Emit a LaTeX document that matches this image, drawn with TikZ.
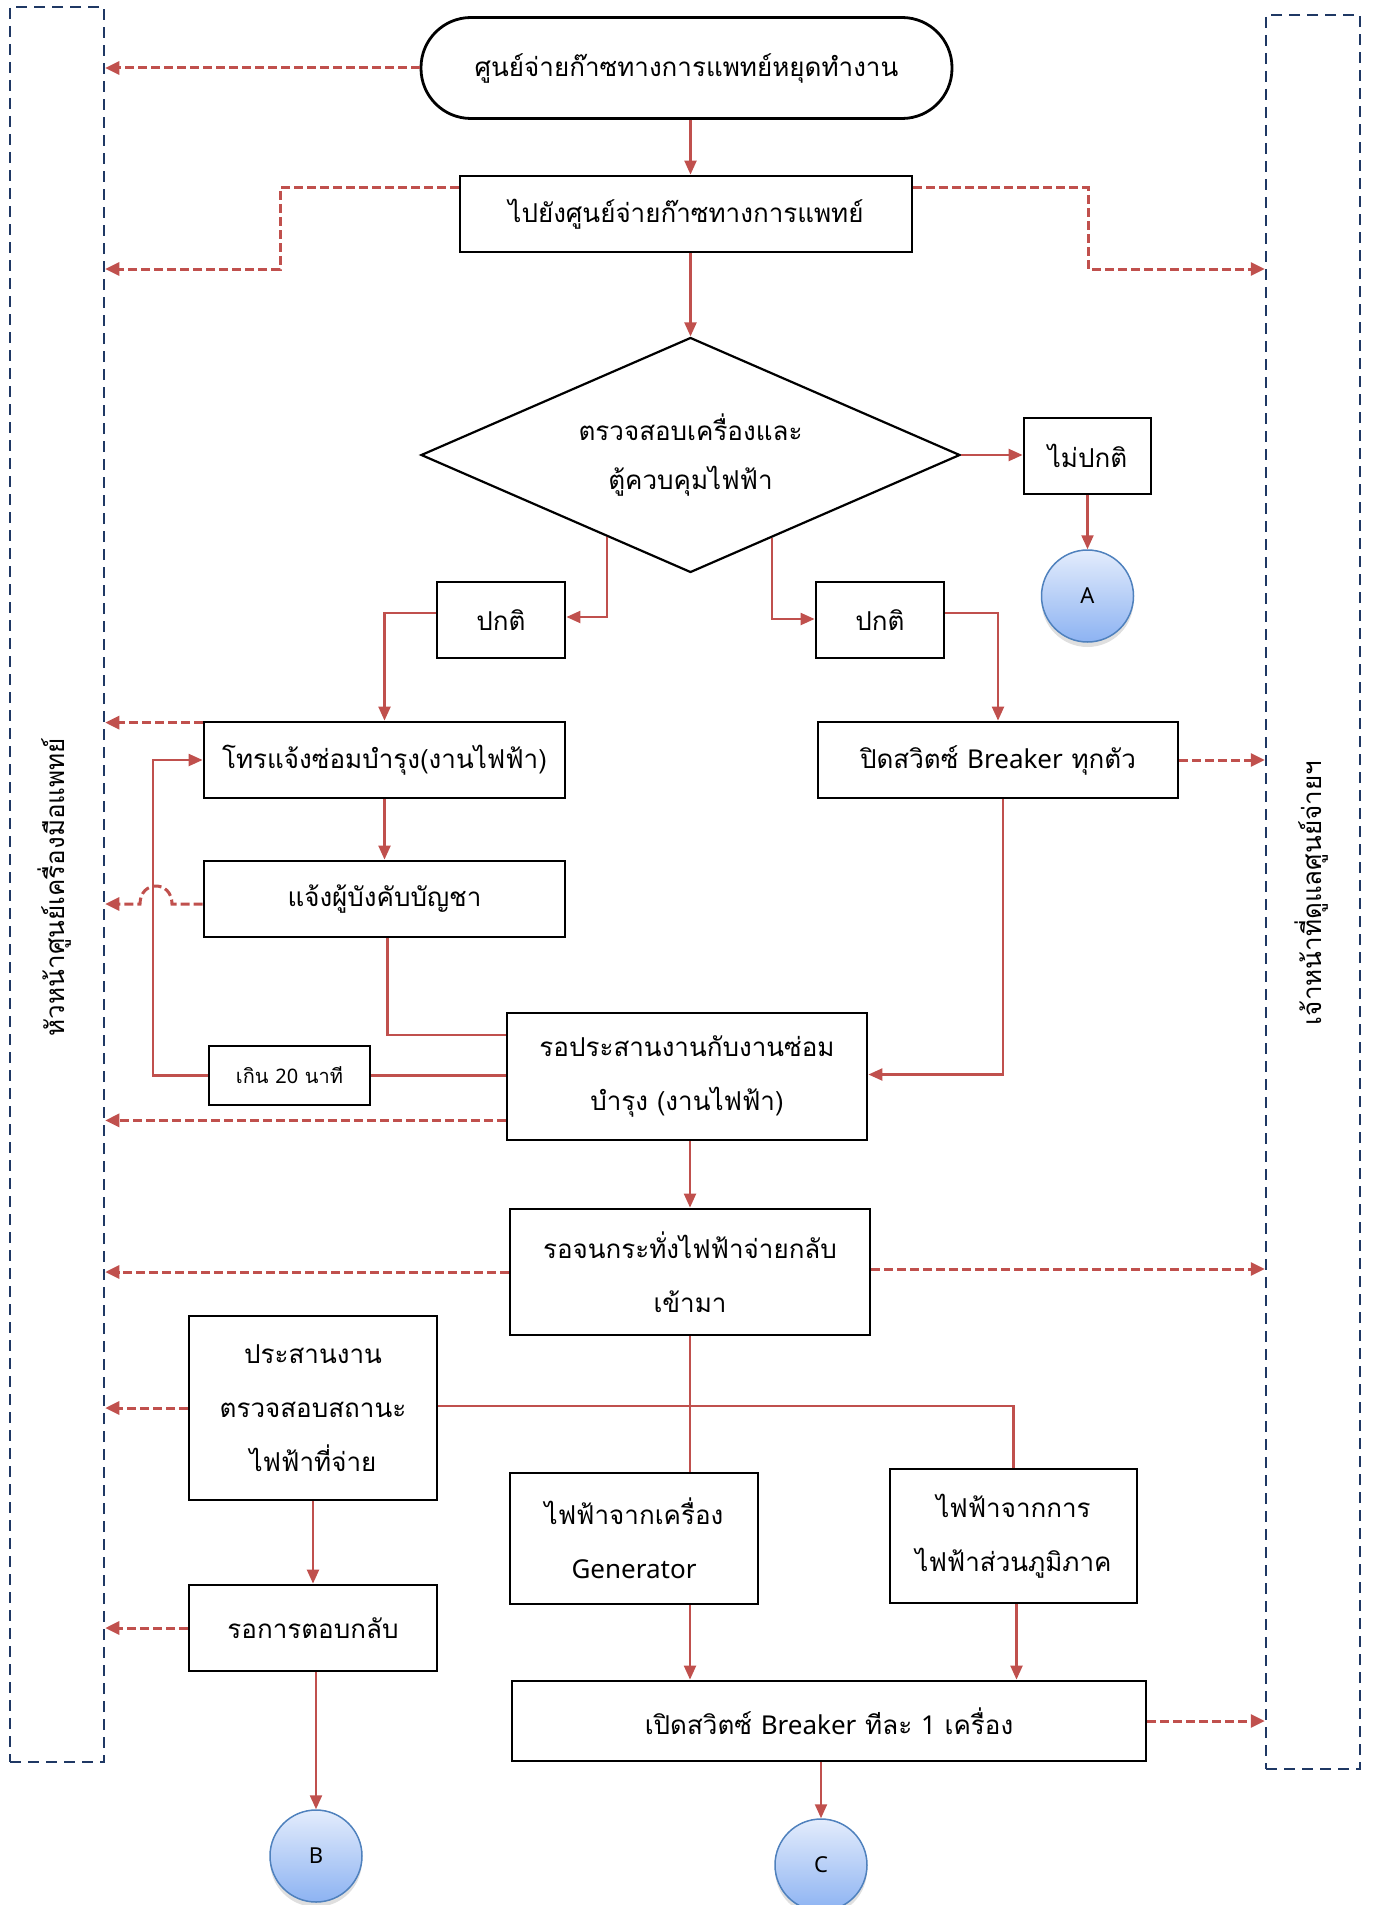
\documentclass[tikz,border=0pt]{standalone}
\usepackage{fontspec}
\setmainfont[Script=Thai]{Loma}
\newfontfamily\lat{Noto Sans}
\usetikzlibrary{arrows.meta,shapes.geometric,calc,shadows}
\definecolor{cred}{HTML}{C0504D}
\definecolor{lanec}{HTML}{1F3864}
\definecolor{cborder}{HTML}{4F81BD}
\definecolor{ctop}{HTML}{E3ECFC}
\definecolor{cbot}{HTML}{8DB3F2}
\begin{document}
\begin{tikzpicture}[x=1pt,y=-1pt,
  box/.style={draw=black,line width=2.8pt,inner sep=0pt,align=center,font=\fontsize{26}{54}\selectfont},
  flow/.style={draw=cred,line width=2.2pt,-{Triangle[length=14pt,width=12pt]}},
  link/.style={draw=cred,line width=2.2pt},
  info/.style={draw=cred,line width=3pt,dash pattern=on 9pt off 4pt,-{Triangle[length=14pt,width=13pt]}},
  lanebox/.style={draw=lanec,line width=2.5pt,dash pattern=on 11pt off 7pt,inner sep=0pt},
  lanelabel/.style={rotate=90,font=\fontsize{26}{30}\selectfont},
  conn/.style={circle,draw=cborder,line width=1.5pt,top color=ctop,bottom color=cbot,minimum size=92pt,inner sep=0pt,font=\lat\fontsize{22}{22}\selectfont,drop shadow={opacity=0.25,shadow xshift=0pt,shadow yshift=-5pt}}
]
\useasboundingbox (0,0) rectangle (1373,1905);

% lanes
\node[lanebox,minimum width=94pt,minimum height=1755pt] (laneL) at (57,884.5) {};
\node[lanebox,minimum width=94pt,minimum height=1754pt] (laneR) at (1313,892) {};
\node[lanelabel] (lblL) at (55,887) {หัวหน้าศูนย์เครื่องมือแพทย์};
\node[lanelabel] (lblR) at (1312,893) {เจ้าหน้าที่ดูแลศูนย์จ่ายฯ};

% nodes
\node[box,rounded corners=50pt,minimum width=531pt,minimum height=101pt] (start) at (686.5,68) {ศูนย์จ่ายก๊าซทางการแพทย์หยุดทำงาน};
\node[box,minimum width=452pt,minimum height=76pt] (go) at (686,214) {ไปยังศูนย์จ่ายก๊าซทางการแพทย์};
\node[diamond,draw=black,line width=2.2pt,minimum width=539pt,minimum height=235pt,inner sep=0pt] (dia) at (690.5,455) {};
\node[align=center,font=\fontsize{26}{49}\selectfont] (diatxt) at (690.5,455) {ตรวจสอบเครื่องและ\\ตู้ควบคุมไฟฟ้า};
\node[box,minimum width=127pt,minimum height=76pt] (abn) at (1087.5,456) {ไม่ปกติ};
\node[conn] (cA) at (1087.5,596) {A};
\node[box,minimum width=128pt,minimum height=76pt] (nL) at (501,620) {ปกติ};
\node[box,minimum width=128pt,minimum height=76pt] (nR) at (880,620) {ปกติ};
\node[box,minimum width=361pt,minimum height=76pt] (call) at (384.5,760) {โทรแจ้งซ่อมบำรุง(งานไฟฟ้า)};
\node[box,minimum width=360pt,minimum height=76pt] (off) at (998,760) {ปิดสวิตซ์ {\lat Breaker} ทุกตัว};
\node[box,minimum width=361pt,minimum height=76pt] (inform) at (384.5,899) {แจ้งผู้บังคับบัญชา};
\node[box,minimum width=360pt,minimum height=127pt] (coord) at (687,1076.5) {รอประสานงานกับงานซ่อม\\บำรุง (งานไฟฟ้า)};
\node[box,minimum width=161pt,minimum height=59pt,font=\fontsize{20}{24}\selectfont] (over20) at (289.5,1075.5) {เกิน {\lat 20} นาที};
\node[box,minimum width=360pt,minimum height=126pt] (wait) at (690,1272) {รอจนกระทั่งไฟฟ้าจ่ายกลับ\\เข้ามา};
\node[box,minimum width=248pt,minimum height=184pt] (check) at (313,1408) {ประสานงาน\\ตรวจสอบสถานะ\\ไฟฟ้าที่จ่าย};
\node[box,minimum width=248pt,minimum height=131pt] (gen) at (634,1538.5) {ไฟฟ้าจากเครื่อง\\{\lat Generator}};
\node[box,minimum width=247pt,minimum height=134pt] (prov) at (1013.5,1536) {ไฟฟ้าจากการ\\ไฟฟ้าส่วนภูมิภาค};
\node[box,minimum width=248pt,minimum height=86pt] (reply) at (313,1628) {รอการตอบกลับ};
\node[box,minimum width=634pt,minimum height=80pt] (on) at (829,1721) {เปิดสวิตซ์ {\lat Breaker} ทีละ {\lat 1} เครื่อง};
\node[conn] (cB) at (316,1856) {B};
\node[conn] (cC) at (821,1865) {C};

% junction coordinates
\coordinate (jL) at (280,269);
\coordinate (jR) at (1088,269);
\coordinate (dl) at ($(dia.west)!0.69!(dia.south)$);
\coordinate (dr) at ($(dia.east)!0.70!(dia.south)$);

% solid flow
\draw[flow] (dia.north |- start.south) -- (dia.north |- go.north);
\draw[flow] (dia.north |- go.south) -- (dia.north);
\draw[flow] (dia.east) -- (dia.east -| abn.west);
\draw[flow] (abn.south) -- (cA.north);
\draw[flow] (dl) |- ($(nL.east)+(0,-3)$);
\draw[flow] (dr) |- ($(nR.west)+(0,-1)$);
\draw[flow] ($(nL.west)+(0,-7)$) -| (call.north);
\draw[flow] ($(nR.east)+(0,-7)$) -| (off.north);
\draw[flow] (call.south) -- (inform.north);
\draw[link] ($(inform.south)+(3,0)$) |- ($(coord.north west)!0.18!(coord.south west)$);
\draw[link] (coord.west |- over20.east) -- (over20.east);
\draw[flow] (over20.west) -- ++(-55,0) |- (call.west);
\draw[flow] ($(off.south)+(5,0)$) |- ($(coord.east)+(0,-2)$);
\draw[flow] (coord.south -| wait.north) -- (wait.north);
\draw[link] (wait.south) -- (wait.south |- gen.north);
\draw[link] ($(check.east)+(0,-2)$) -| (prov.north);
\draw[flow] (check.south) -- (reply.north);
\draw[flow] (reply.south -| cB.north) -- (cB.north);
\draw[flow] (wait.south |- gen.south) -- (wait.south |- on.north);
\draw[flow] ($(prov.south)+(3,0)$) -- ($(prov.south |- on.north)+(3,0)$);
\draw[flow] (cC.north |- on.south) -- (cC.north);

% dashed info arrows
\draw[info] (start.west) -- (start.west -| laneL.east);
\draw[info] ($(go.north west)+(0,13)$) -| (jL) -- (jL -| laneL.east);
\draw[info] ($(go.north east)+(0,13)$) -| (jR) -- (jR -| laneR.west);
\draw[info] ($(call.north west)+(0,2)$) -- ($(call.north west -| laneL.east)+(0,2)$);
\draw[info] (off.east) -- (off.east -| laneR.west);
\draw[info] ($(inform.west)+(0,5)$) -- (172,904) .. controls (172,880) and (140,880) .. (140,904) -- ($(inform.west -| laneL.east)+(0,5)$);
\draw[info] ($(coord.south west)+(0,-21)$) -- ($(coord.south west -| laneL.east)+(0,-21)$);
\draw[info] (wait.west) -- (wait.west -| laneL.east);
\draw[info] ($(wait.east)+(0,-3)$) -- ($(wait.east -| laneR.west)+(0,-3)$);
\draw[info] (check.west) -- (check.west -| laneL.east);
\draw[info] (reply.west) -- (reply.west -| laneL.east);
\draw[info] (on.east) -- (on.east -| laneR.west);
\end{tikzpicture}
\end{document}
